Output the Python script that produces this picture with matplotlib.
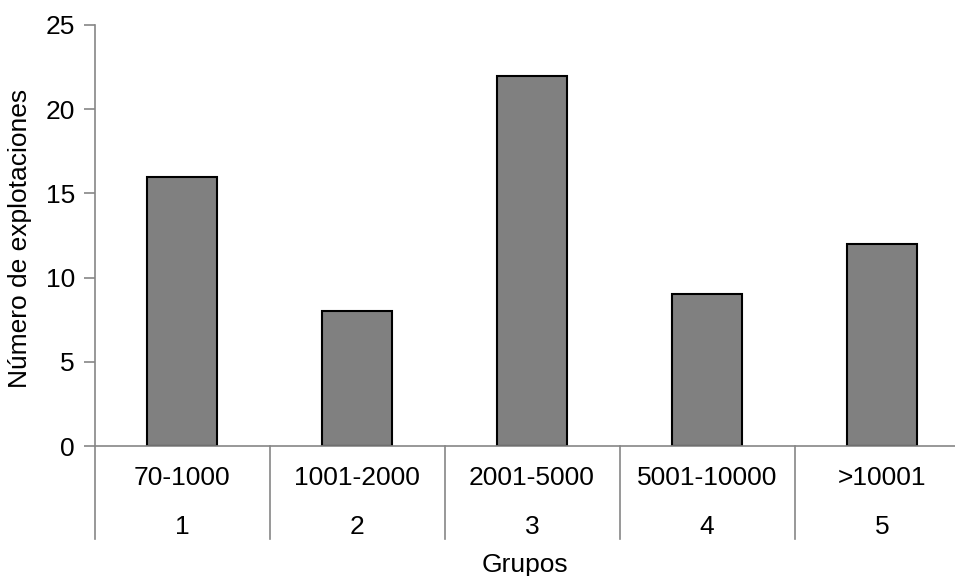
import numpy as np
import matplotlib.pyplot as plt
import matplotlib.transforms as mtransforms

# datos
rangos = ["70-1000", "1001-2000", "2001-5000", "5001-10000", ">10001"]
grupos = ["1", "2", "3", "4", "5"]
explotaciones = [16, 8, 22, 9, 12]

plt.rcParams['font.family'] = ['Liberation Sans', 'DejaVu Sans']

W, H = 955, 576
fig = plt.figure(figsize=(W / 100, H / 100), dpi=100)
x0, x1, ytop, ybot = 94.5, 969.5, 25, 446
ax = fig.add_axes([x0 / W, (H - ybot) / H, (x1 - x0) / W, (ybot - ytop) / H])

x = np.arange(len(rangos)) + 0.5
ax.bar(x, explotaciones, width=0.4, color="#808080", edgecolor="black", linewidth=1.5)

gris = "#868686"
fs = 19
ax.set_xlim(0, len(rangos))
ax.set_ylim(0, 25)
ax.set_yticks(range(0, 26, 5))
ax.tick_params(axis="y", direction="out", length=8, width=1.2, color=gris,
               labelsize=fs, pad=6)
ax.set_xticks([])
for s in ["top", "right"]:
    ax.spines[s].set_visible(False)
for s in ["left", "bottom"]:
    ax.spines[s].set_color(gris)
    ax.spines[s].set_linewidth(1.2)

# etiquetas jerárquicas del eje x
trans = mtransforms.blended_transform_factory(ax.transData, ax.transAxes)
alto = ybot - ytop
for i in range(len(rangos) + 1):
    ax.plot([i, i], [0, -(539 - ybot) / alto], transform=trans, color=gris,
            linewidth=1.2, clip_on=False)
for xi, r, g in zip(x, rangos, grupos):
    ax.text(xi, -(478 - ybot) / alto, r, transform=trans, ha="center", va="center", fontsize=fs)
    ax.text(xi, -(527 - ybot) / alto, g, transform=trans, ha="center", va="center", fontsize=fs)

fig.text(525 / W, 1 - 565 / H, "Grupos", ha="center", va="center", fontsize=fs)
fig.text(20 / W, 1 - 238 / H, "Número de explotaciones", ha="center", va="center",
         rotation=90, fontsize=fs)

fig.savefig("out.png", dpi=100)
